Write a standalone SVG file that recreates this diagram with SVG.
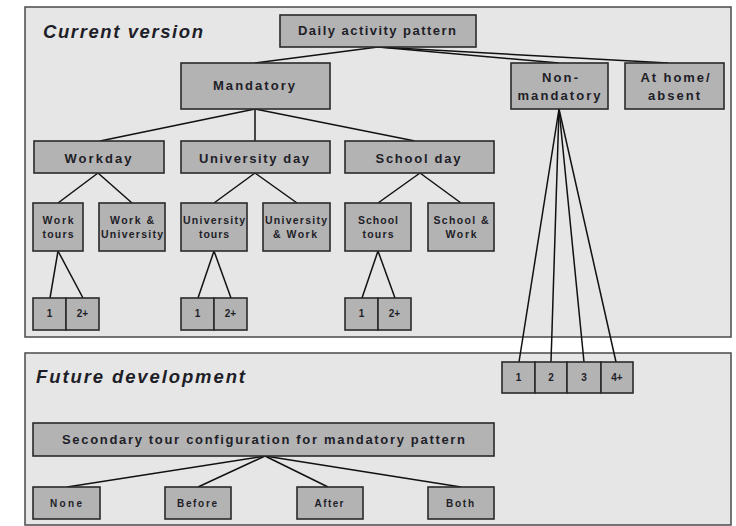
<svg xmlns="http://www.w3.org/2000/svg" width="736" height="526" viewBox="0 0 736 526">
<style>
.panel{fill:#e6e6e6;stroke:#4a4a4a;stroke-width:1.5}
.node rect{fill:#b3b3b3;stroke:#2a2a2a;stroke-width:1.6}
.node text{font-family:"Liberation Sans",Arial,sans-serif;font-weight:bold;fill:#1e1e28;text-anchor:middle}
.t12{font-size:13px}
.t10{font-size:10.5px}
.t9{font-size:10px}
.title{font-family:"Liberation Sans",Arial,sans-serif;font-weight:bold;font-style:italic;font-size:18.5px;fill:#1e1e28}
.conn line{stroke:#111;stroke-width:1.5}
</style>
<rect width="736" height="526" fill="#fff"/>
<g id="panel-current">
<rect class="panel" x="25" y="7" width="706" height="330"/>
<text class="title" x="43" y="38" textLength="160" lengthAdjust="spacing">Current version</text>
</g>
<g id="panel-future">
<rect class="panel" x="25" y="353" width="706" height="172"/>
<text class="title" x="36" y="383" textLength="209" lengthAdjust="spacing">Future development</text>
</g>
<g id="connectors" class="conn">
<line x1="378" y1="47" x2="255" y2="63"/>
<line x1="378" y1="47" x2="559" y2="63"/>
<line x1="378" y1="47" x2="668" y2="63"/>
<line x1="255" y1="109" x2="100" y2="141"/>
<line x1="255" y1="109" x2="255" y2="141"/>
<line x1="255" y1="109" x2="415" y2="141"/>
<line x1="98" y1="173" x2="58" y2="203"/>
<line x1="98" y1="173" x2="132" y2="203"/>
<line x1="255" y1="173" x2="214" y2="203"/>
<line x1="255" y1="173" x2="297" y2="203"/>
<line x1="420" y1="173" x2="378" y2="203"/>
<line x1="420" y1="173" x2="461" y2="203"/>
<line x1="58" y1="251" x2="50" y2="298"/>
<line x1="58" y1="251" x2="83" y2="298"/>
<line x1="214" y1="251" x2="198" y2="298"/>
<line x1="214" y1="251" x2="231" y2="298"/>
<line x1="378" y1="251" x2="362" y2="298"/>
<line x1="378" y1="251" x2="395" y2="298"/>
<line x1="559" y1="109" x2="519" y2="362"/>
<line x1="559" y1="109" x2="551" y2="362"/>
<line x1="559" y1="109" x2="584" y2="362"/>
<line x1="559" y1="109" x2="616" y2="362"/>
<line x1="265" y1="456" x2="67" y2="487"/>
<line x1="265" y1="456" x2="198" y2="487"/>
<line x1="265" y1="456" x2="328" y2="487"/>
<line x1="265" y1="456" x2="461" y2="487"/>
</g>
<g id="daily" class="node"><rect x="280" y="15" width="196" height="32"/><text class="t12" x="377" y="35" textLength="158" lengthAdjust="spacing">Daily activity pattern</text></g>
<g id="mandatory" class="node"><rect x="181" y="63" width="149" height="46"/><text class="t12" x="254" y="90" textLength="82" lengthAdjust="spacing">Mandatory</text></g>
<g id="nonmandatory" class="node"><rect x="511" y="63" width="97" height="46"/><text class="t12" x="560" y="82" textLength="36" lengthAdjust="spacing">Non-</text><text class="t12" x="559" y="100" textLength="83" lengthAdjust="spacing">mandatory</text></g>
<g id="athome" class="node"><rect x="625" y="63" width="99" height="46"/><text class="t12" x="675" y="82" textLength="69" lengthAdjust="spacing">At home/</text><text class="t12" x="674" y="100" textLength="52" lengthAdjust="spacing">absent</text></g>
<g id="workday" class="node"><rect x="34" y="141" width="130" height="32"/><text class="t12" x="98" y="163" textLength="67" lengthAdjust="spacing">Workday</text></g>
<g id="univday" class="node"><rect x="181" y="141" width="149" height="32"/><text class="t12" x="254" y="163" textLength="110" lengthAdjust="spacing">University day</text></g>
<g id="schoolday" class="node"><rect x="345" y="141" width="149" height="32"/><text class="t12" x="418" y="163" textLength="85" lengthAdjust="spacing">School day</text></g>
<g id="worktours" class="node"><rect x="33" y="203" width="50" height="48"/><text class="t10" x="58" y="224" textLength="31" lengthAdjust="spacing">Work</text><text class="t10" x="58" y="238" textLength="31" lengthAdjust="spacing">tours</text></g>
<g id="workuniv" class="node"><rect x="99" y="203" width="66" height="48"/><text class="t10" x="132" y="224" textLength="44" lengthAdjust="spacing">Work &amp;</text><text class="t10" x="132" y="238" textLength="62" lengthAdjust="spacing">University</text></g>
<g id="univtours" class="node"><rect x="181" y="203" width="66" height="48"/><text class="t10" x="214" y="224" textLength="62" lengthAdjust="spacing">University</text><text class="t10" x="214" y="238" textLength="30" lengthAdjust="spacing">tours</text></g>
<g id="univwork" class="node"><rect x="263" y="203" width="67" height="48"/><text class="t10" x="296" y="224" textLength="62" lengthAdjust="spacing">University</text><text class="t10" x="295" y="238" textLength="44" lengthAdjust="spacing">&amp; Work</text></g>
<g id="schooltours" class="node"><rect x="345" y="203" width="66" height="48"/><text class="t10" x="378" y="224" textLength="40" lengthAdjust="spacing">School</text><text class="t10" x="378" y="238" textLength="31" lengthAdjust="spacing">tours</text></g>
<g id="schoolwork" class="node"><rect x="428" y="203" width="66" height="48"/><text class="t10" x="461" y="224" textLength="55" lengthAdjust="spacing">School &amp;</text><text class="t10" x="461" y="238" textLength="31" lengthAdjust="spacing">Work</text></g>
<g id="work1" class="node"><rect x="33" y="298" width="33" height="32"/><text class="t9" x="49.5" y="317">1</text></g>
<g id="work2" class="node"><rect x="66" y="298" width="33" height="32"/><text class="t9" x="82.5" y="317">2+</text></g>
<g id="univ1" class="node"><rect x="181" y="298" width="33" height="32"/><text class="t9" x="197.5" y="317">1</text></g>
<g id="univ2" class="node"><rect x="214" y="298" width="33" height="32"/><text class="t9" x="230.5" y="317">2+</text></g>
<g id="school1" class="node"><rect x="345" y="298" width="33" height="32"/><text class="t9" x="361.5" y="317">1</text></g>
<g id="school2" class="node"><rect x="378" y="298" width="33" height="32"/><text class="t9" x="394.5" y="317">2+</text></g>
<g id="nm1" class="node"><rect x="502" y="362" width="33" height="31"/><text class="t9" x="518.5" y="381">1</text></g>
<g id="nm2" class="node"><rect x="535" y="362" width="32" height="31"/><text class="t9" x="551" y="381">2</text></g>
<g id="nm3" class="node"><rect x="567" y="362" width="34" height="31"/><text class="t9" x="584" y="381">3</text></g>
<g id="nm4" class="node"><rect x="601" y="362" width="32" height="31"/><text class="t9" x="617" y="381">4+</text></g>
<g id="secondary" class="node"><rect x="33" y="423" width="461" height="33"/><text class="t12" x="263.5" y="444" textLength="403" lengthAdjust="spacing">Secondary tour configuration for mandatory pattern</text></g>
<g id="none" class="node"><rect x="33" y="487" width="67" height="32"/><text class="t9" x="66" y="507" textLength="32" lengthAdjust="spacing">None</text></g>
<g id="before" class="node"><rect x="165" y="487" width="66" height="32"/><text class="t9" x="197" y="507" textLength="40" lengthAdjust="spacing">Before</text></g>
<g id="after" class="node"><rect x="297" y="487" width="66" height="32"/><text class="t9" x="329" y="507" textLength="29" lengthAdjust="spacing">After</text></g>
<g id="both" class="node"><rect x="428" y="487" width="66" height="32"/><text class="t9" x="460" y="507" textLength="28" lengthAdjust="spacing">Both</text></g>
</svg>
